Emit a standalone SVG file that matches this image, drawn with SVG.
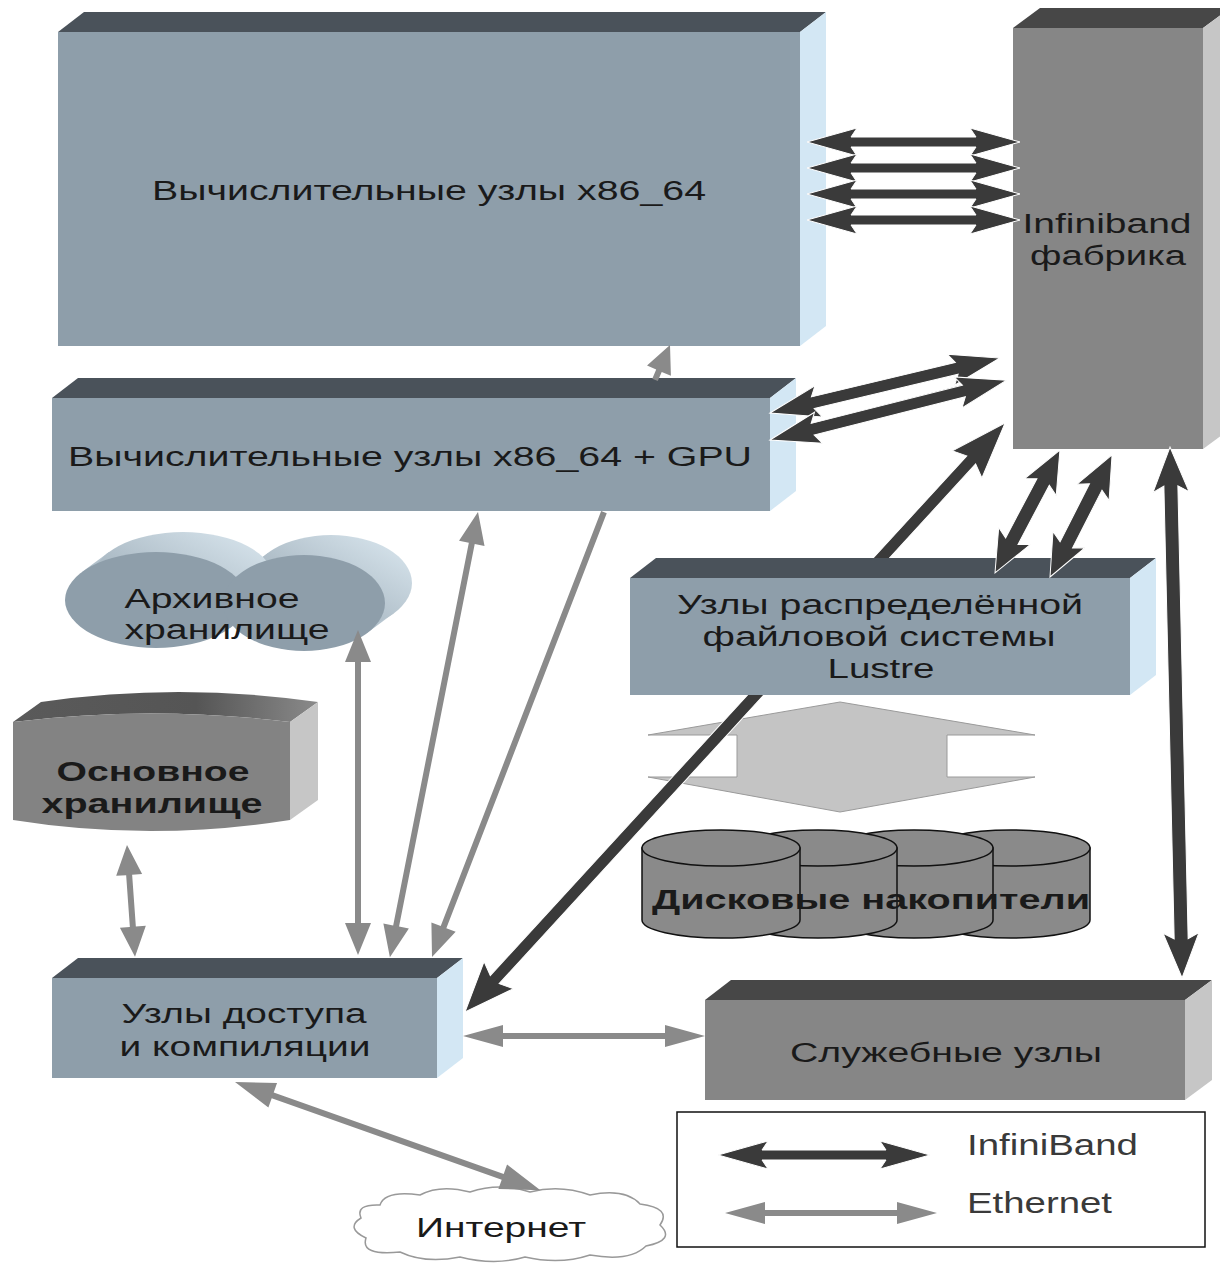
<svg xmlns="http://www.w3.org/2000/svg" width="1220" height="1265" viewBox="0 0 1220 1265">
<style>
.bf{fill:#8e9eaa}.bt{fill:#4a525a}.bs{fill:#d3e7f4}
.gf{fill:#868686}.gt{fill:#474747}.gs{fill:#c6c6c6}
.t{font-family:"Liberation Sans",Arial,sans-serif;font-size:27px;fill:#1a1a1a;text-anchor:middle}
.tb{font-weight:bold}
.lg{font-family:"Liberation Sans",Arial,sans-serif;font-size:29px;fill:#3a3a3a}
.ib{fill:#3a3a3a;stroke:#ffffff;stroke-width:1}
.eth{fill:#8a8a8a}
.disk{fill:#8a8a8a;stroke:#111;stroke-width:1.5}
</style>
<defs>
<linearGradient id="arch" x1="0" y1="1" x2="1" y2="0">
<stop offset="0" stop-color="#8e9eaa"/><stop offset="1" stop-color="#dce9f1"/>
</linearGradient>
<linearGradient id="mtop" x1="0" y1="0" x2="1" y2="0">
<stop offset="0" stop-color="#5a5a5a"/><stop offset="0.6" stop-color="#555"/><stop offset="1" stop-color="#8a8a8a"/>
</linearGradient>
<clipPath id="noLustre" clipPathUnits="userSpaceOnUse">
<path clip-rule="evenodd" d="M0,0 H1220 V1265 H0 Z M630,578 L656,558 L1156,558 L1156,675 L1130,695 L630,695 Z"/>
</clipPath>
</defs>
<rect width="1220" height="1265" fill="#fff"/>

<g id="node-compute">
<rect class="bf" x="58" y="32" width="742" height="314"/>
<polygon class="bt" points="58,32 84,12 826,12 800,32"/>
<polygon class="bs" points="800,32 826,12 826,326 800,346"/>
<text class="t" x="429" y="200" font-size="31" textLength="554" lengthAdjust="spacingAndGlyphs">Вычислительные узлы x86_64</text>
</g>

<g id="node-gpu">
<rect class="bf" x="52" y="398" width="718" height="113"/>
<polygon class="bt" points="52,398 78,378 796,378 770,398"/>
<polygon class="bs" points="770,398 796,378 796,491 770,511"/>
<text class="t" x="410" y="466" font-size="31" textLength="684" lengthAdjust="spacingAndGlyphs">Вычислительные узлы x86_64 + GPU</text>
</g>

<g id="node-infiniband">
<rect class="gf" x="1013" y="28" width="190" height="421"/>
<polygon class="gt" points="1013,28 1040,8 1230,8 1203,28"/>
<polygon class="gs" points="1203,28 1230,8 1230,429 1203,449"/>
<text class="t" x="1107" y="233" textLength="169" lengthAdjust="spacingAndGlyphs">Infiniband</text>
<text class="t" x="1108" y="265" textLength="156" lengthAdjust="spacingAndGlyphs">фабрика</text>
</g>

<g id="node-archive">
<polygon fill="url(#arch)" points="241,573 268,553 394,613 367,633"/>
<ellipse cx="331" cy="583" rx="81" ry="48" fill="url(#arch)"/>
<polygon fill="url(#arch)" points="82,572 109,552 257,608 230,628"/>
<ellipse cx="183" cy="580" rx="91" ry="48" fill="url(#arch)"/>
<ellipse class="bf" cx="156" cy="600" rx="91" ry="48"/>
<ellipse class="bf" cx="304" cy="603" rx="81" ry="48"/>
<text class="t" x="212" y="608" textLength="175" lengthAdjust="spacingAndGlyphs">Архивное</text>
<text class="t" x="227" y="639" textLength="205" lengthAdjust="spacingAndGlyphs">хранилище</text>
</g>

<g id="node-main-storage">
<path fill="url(#mtop)" d="M13,722 Q150,705 290,722 L318,702 Q178,682 41,702 Z"/>
<path class="gs" d="M290,722 L318,702 L318,800 L290,820 Z"/>
<path fill="#838383" d="M13,722 Q150,705 290,722 L290,820 Q150,842 13,820 Z"/>
<text class="t tb" x="153" y="781" textLength="193" lengthAdjust="spacingAndGlyphs">Основное</text>
<text class="t tb" x="152" y="813" textLength="221" lengthAdjust="spacingAndGlyphs">хранилище</text>
</g>

<g id="node-lustre">
<rect class="bf" x="630" y="578" width="500" height="117"/>
<polygon class="bt" points="630,578 656,558 1156,558 1130,578"/>
<polygon class="bs" points="1130,578 1156,558 1156,675 1130,695"/>
<text class="t" x="880" y="614" textLength="406" lengthAdjust="spacingAndGlyphs">Узлы распределённой</text>
<text class="t" x="879" y="646" textLength="353" lengthAdjust="spacingAndGlyphs">файловой системы</text>
<text class="t" x="881" y="678" textLength="107" lengthAdjust="spacingAndGlyphs">Lustre</text>
</g>

<g id="node-disks">
<path class="disk" d="M932,848 L932,920 A79,18 0 0 0 1090,920 L1090,848 Z"/>
<ellipse class="disk" cx="1011" cy="848" rx="79" ry="18"/>
<path class="disk" d="M835,848 L835,920 A79,18 0 0 0 993,920 L993,848 Z"/>
<ellipse class="disk" cx="914" cy="848" rx="79" ry="18"/>
<path class="disk" d="M739,848 L739,920 A79,18 0 0 0 897,920 L897,848 Z"/>
<ellipse class="disk" cx="818" cy="848" rx="79" ry="18"/>
<path class="disk" d="M642,848 L642,920 A79,18 0 0 0 800,920 L800,848 Z"/>
<ellipse class="disk" cx="721" cy="848" rx="79" ry="18"/>
<text class="t tb" x="871" y="909" font-size="30" textLength="438" lengthAdjust="spacingAndGlyphs">Дисковые накопители</text>
</g>

<g id="node-access">
<rect class="bf" x="52" y="978" width="385" height="100"/>
<polygon class="bt" points="52,978 78,958 463,958 437,978"/>
<polygon class="bs" points="437,978 463,958 463,1058 437,1078"/>
<text class="t" x="244" y="1023" textLength="245" lengthAdjust="spacingAndGlyphs">Узлы доступа</text>
<text class="t" x="245" y="1056" textLength="251" lengthAdjust="spacingAndGlyphs">и компиляции</text>
</g>

<g id="node-service">
<rect class="gf" x="705" y="1000" width="480" height="100"/>
<polygon class="gt" points="705,1000 731,980 1212,980 1185,1000"/>
<polygon class="gs" points="1185,1000 1212,980 1212,1080 1185,1100"/>
<text class="t" x="946" y="1062" font-size="30" textLength="312" lengthAdjust="spacingAndGlyphs">Служебные узлы</text>
</g>

<g id="node-internet">
<path fill="#fff" stroke="#999" stroke-width="1.5" d="M380,1205 Q385,1190 420,1195 Q440,1184 470,1192 Q500,1182 530,1192 Q560,1184 590,1195 Q625,1188 640,1204 Q672,1208 660,1225 Q676,1240 646,1246 Q630,1262 590,1255 Q560,1265 525,1257 Q495,1266 460,1257 Q425,1264 400,1252 Q360,1256 366,1238 Q345,1228 361,1218 Q355,1204 380,1205 Z"/>
<text class="t" x="501" y="1237" font-size="29" textLength="170" lengthAdjust="spacingAndGlyphs">Интернет</text>
</g>

<g id="legend">
<rect x="677" y="1112" width="528" height="135" fill="#fff" stroke="#111" stroke-width="1.5"/>
<path class="ib" transform="translate(718,1155)" d="M0,0 L50,-14 L44,-5 L168,-5 L162,-14 L212,0 L162,14 L168,5 L44,5 L50,14 Z"/>
<path class="eth" transform="translate(725,1213)" d="M0,0 L40,-11 L40,-3 L172,-3 L172,-11 L212,0 L172,11 L172,3 L40,3 L40,11 Z"/>
<text class="lg" x="967" y="1155" textLength="171" lengthAdjust="spacingAndGlyphs">InfiniBand</text>
<text class="lg" x="967" y="1213" textLength="145" lengthAdjust="spacingAndGlyphs">Ethernet</text>
</g>

<g id="connectors">
<polygon fill="#c4c4c4" stroke="#9a9a9a" stroke-width="1" points="840,702 1035,735 947,735 947,777 1035,777 840,812 648,777 737,777 737,735 648,735"/>
<g clip-path="url(#noLustre)">
<path class="ib" transform="translate(465,1012) rotate(-47.48)" d="M0,0 L50,-20 L44,-6 L749,-6 L743,-20 L799,0 L743,20 L749,6 L44,6 L50,20 Z"/>
</g>
<path class="ib" transform="translate(807,142)" d="M0,0 L50,-14 L44,-5 L169,-5 L163,-14 L213,0 L163,14 L169,5 L44,5 L50,14 Z"/>
<path class="ib" transform="translate(807,168)" d="M0,0 L50,-14 L44,-5 L169,-5 L163,-14 L213,0 L163,14 L169,5 L44,5 L50,14 Z"/>
<path class="ib" transform="translate(807,194)" d="M0,0 L50,-14 L44,-5 L169,-5 L163,-14 L213,0 L163,14 L169,5 L44,5 L50,14 Z"/>
<path class="ib" transform="translate(807,220)" d="M0,0 L50,-14 L44,-5 L169,-5 L163,-14 L213,0 L163,14 L169,5 L44,5 L50,14 Z"/>
<path class="ib" transform="translate(770,413) rotate(-13.45)" d="M0,0 L50,-16 L44,-6 L192,-6 L186,-16 L236,0 L186,16 L192,6 L44,6 L50,16 Z"/>
<path class="ib" transform="translate(770,440) rotate(-14.2)" d="M0,0 L50,-16 L44,-6 L200,-6 L194,-16 L244,0 L194,16 L200,6 L44,6 L50,16 Z"/>
<path class="ib" transform="translate(995,573) rotate(-62.15)" d="M0,0 L42,-18 L36,-7 L103,-7 L97,-18 L139,0 L97,18 L103,7 L36,7 L42,18 Z"/>
<path class="ib" transform="translate(1050,577) rotate(-63.06)" d="M0,0 L42,-18 L36,-7 L101,-7 L95,-18 L137,0 L95,18 L101,7 L36,7 L42,18 Z"/>
<path class="ib" transform="translate(1170,447) rotate(88.7)" d="M0,0 L45,-18 L39,-7 L492,-7 L486,-18 L531,0 L486,18 L492,7 L39,7 L45,18 Z"/>
<path class="eth" transform="translate(127,845) rotate(85.9)" d="M0,0 L30,-13 L30,-3 L82,-3 L82,-13 L112,0 L82,13 L82,3 L30,3 L30,13 Z"/>
<path class="eth" transform="translate(358,630) rotate(90)" d="M0,0 L32,-13 L32,-3 L293,-3 L293,-13 L325,0 L293,13 L293,3 L32,3 L32,13 Z"/>
<path class="eth" transform="translate(478,512) rotate(101.19)" d="M0,0 L32,-13 L32,-3 L422,-3 L422,-13 L454,0 L422,13 L422,3 L32,3 L32,13 Z"/>
<path class="eth" transform="translate(432,957) rotate(-68.87)" d="M0,0 L32,-13 L32,-3 L477,-3 L477,3 L32,3 L32,13 Z"/>
<path class="eth" transform="translate(670,345) rotate(113.2)" d="M0,0 L28,-13 L28,-3 L38,-3 L38,3 L28,3 L28,13 Z"/>
<path class="eth" transform="translate(463,1036)" d="M0,0 L40,-11 L40,-3 L202,-3 L202,-11 L242,0 L202,11 L202,3 L40,3 L40,11 Z"/>
<path class="eth" transform="translate(235,1082) rotate(19.5)" d="M0,0 L40,-13 L40,-3 L284,-3 L284,-13 L324,0 L284,13 L284,3 L40,3 L40,13 Z"/>
</g>
</svg>
